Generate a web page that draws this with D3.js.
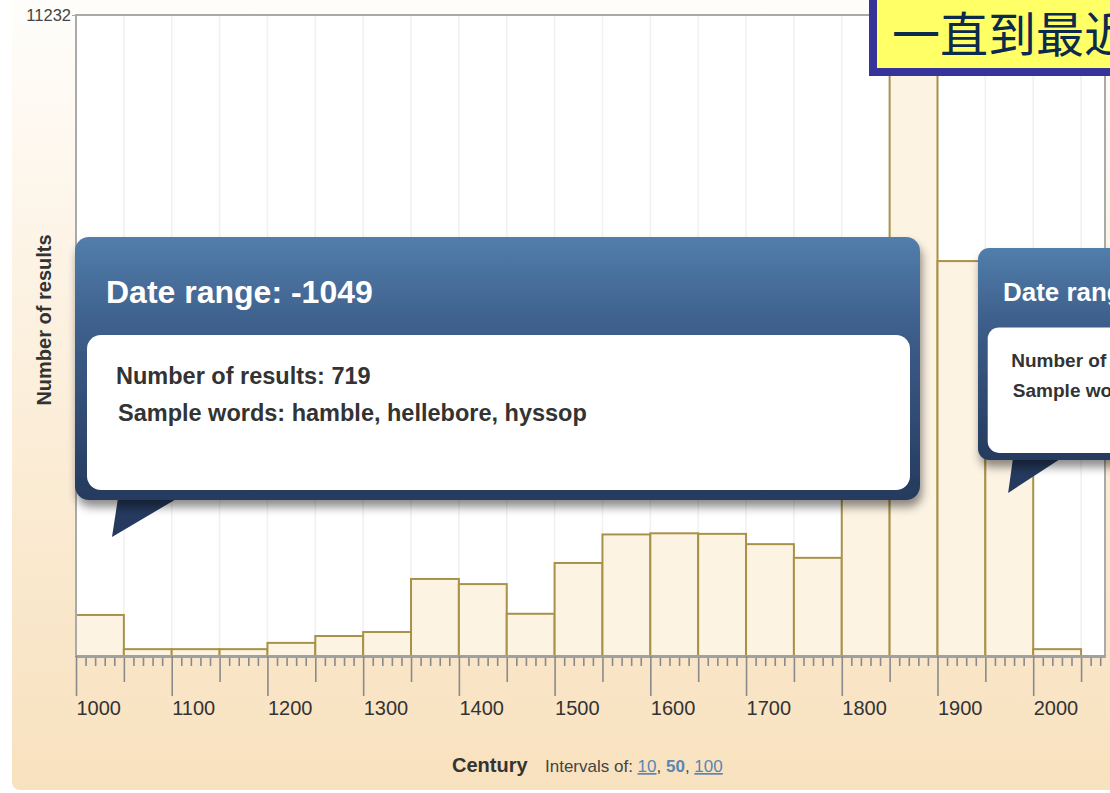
<!DOCTYPE html>
<html>
<head>
<meta charset="utf-8">
<script src="https://cdn.jsdelivr.net/npm/d3@7"></script>
<style>
body { margin: 0; background: #fff; overflow: hidden; }
svg { display: block; font-family: "Liberation Sans", Arial, sans-serif; }
</style>
</head>
<body>
<script>
// 50-year bins, counts
var binStarts = [1000, 1050, 1100, 1150, 1200, 1250, 1300, 1350, 1400, 1450, 1500,
                 1550, 1600, 1650, 1700, 1750, 1800, 1850, 1900, 1950, 2000];
var counts = [719, 120, 120, 120, 230, 350, 420, 1350, 1260, 740, 1630,
              2130, 2150, 2140, 1960, 1720, 5200, 11232, 6920, 5000, 120];
var binWidth = 50;
var yMax = 11232;
var centuryTicks = [1000, 1100, 1200, 1300, 1400, 1500, 1600, 1700, 1800, 1900, 2000];
var intervalLinks = ["10", "50", "100"];

// tooltip texts
var tipTitles = ["Date range: -1049", "Date range: 1950-1999"];
var tipResults = ["Number of results: 719", "Number of results: 5000"];
var tipWords = ["Sample words: hamble, hellebore, hyssop", "Sample words: hashtag, hacktivist"];
var noteText = "一直到最近";

var w = 1110, h = 793;
var svg = d3.select("body").append("svg").attr("width", w).attr("height", h);
var defs = svg.append("defs");

var bg = defs.append("linearGradient").attr("id", "bg").attr("x1", 0).attr("y1", 0).attr("x2", 0).attr("y2", 1);
bg.append("stop").attr("offset", "0%").attr("stop-color", "#fffefc");
bg.append("stop").attr("offset", "45%").attr("stop-color", "#fcf0de");
bg.append("stop").attr("offset", "100%").attr("stop-color", "#f8e1be");

var tg = defs.append("linearGradient").attr("id", "tip").attr("x1", 0).attr("y1", 0).attr("x2", 0).attr("y2", 1);
tg.append("stop").attr("offset", "0%").attr("stop-color", "#527eab");
tg.append("stop").attr("offset", "35%").attr("stop-color", "#3d5e8b");
tg.append("stop").attr("offset", "100%").attr("stop-color", "#253a5e");

var f = defs.append("filter").attr("id", "shadow")
    .attr("x", "-5%").attr("y", "-5%").attr("width", "115%").attr("height", "125%");
f.append("feDropShadow").attr("dx", 2).attr("dy", 7).attr("stdDeviation", 5)
    .attr("flood-color", "#000").attr("flood-opacity", 0.45);

// page panel
svg.append("rect").attr("x", 12).attr("y", -12).attr("width", 1120).attr("height", 802)
    .attr("rx", 8).attr("fill", "url(#bg)");

var x = d3.scaleLinear().domain([1000, 2075]).range([76, 1105]);
var y = d3.scaleLinear().domain([0, yMax]).range([656, 15]);

// plot area
svg.append("rect").attr("x", x(1000)).attr("y", y(yMax))
    .attr("width", x(2075) - x(1000)).attr("height", y(0) - y(yMax)).attr("fill", "#fff");

svg.append("g").selectAll("line")
    .data(d3.range(1050, 2075, 50))
    .enter().append("line")
    .attr("x1", function(d) { return x(d); }).attr("x2", function(d) { return x(d); })
    .attr("y1", y(yMax)).attr("y2", y(0))
    .attr("stroke", "#f0f0f0").attr("stroke-width", 1.5);

svg.append("g").selectAll("rect")
    .data(binStarts)
    .enter().append("rect")
    .attr("x", function(d) { return x(d); })
    .attr("y", function(d, i) { return y(counts[i]); })
    .attr("width", x(1000 + binWidth) - x(1000))
    .attr("height", function(d, i) { return y(0) - y(counts[i]); })
    .attr("fill", "#fdf3e3")
    .attr("stroke", "#a8924a")
    .attr("stroke-width", 2);

// frame
svg.append("path")
    .attr("d", "M" + x(1000) + "," + y(0) + "V" + y(yMax) + "H" + x(2075) + "V" + y(0))
    .attr("fill", "none").attr("stroke", "#aaa").attr("stroke-width", 2);

// x axis: 10-year, 50-year and century ticks
function styleAxis(g) {
    g.select(".domain").attr("stroke", "#a0a0a0").attr("stroke-width", 2.5);
    g.selectAll(".tick line").attr("stroke", "#8a8a8a").attr("stroke-width", 1.6);
}
svg.append("g").attr("transform", "translate(0," + y(0) + ")")
    .call(d3.axisBottom(x).tickValues(d3.range(1010, 2075, 10).filter(function(d) { return d % 50 != 0; }))
        .tickSize(10).tickSizeOuter(0).tickFormat(""))
    .call(styleAxis);
svg.append("g").attr("transform", "translate(0," + y(0) + ")")
    .call(d3.axisBottom(x).tickValues(d3.range(1050, 2075, 100)).tickSize(26).tickSizeOuter(0).tickFormat(""))
    .call(styleAxis);
var xa = svg.append("g").attr("transform", "translate(0," + y(0) + ")")
    .call(d3.axisBottom(x).tickValues(centuryTicks).tickSize(40).tickPadding(5).tickSizeOuter(0).tickFormat(d3.format("d")))
    .call(styleAxis);
xa.selectAll("text").attr("text-anchor", "start").attr("x", 0)
    .attr("font-family", "Liberation Sans, Arial, sans-serif").attr("font-size", "20px").attr("fill", "#333");

// y axis: only the max
var ya = svg.append("g").attr("transform", "translate(" + x(1000) + ",0)")
    .call(d3.axisLeft(y).tickValues([yMax]).tickSize(4).tickPadding(1).tickFormat(d3.format("d")));
ya.select(".domain").remove();
ya.selectAll(".tick line").attr("stroke", "#aaa");
ya.selectAll("text").attr("font-family", "Liberation Sans, Arial, sans-serif")
    .attr("font-size", "16.5px").attr("fill", "#444");

svg.append("text")
    .attr("transform", "translate(51,320) rotate(-90)")
    .attr("text-anchor", "middle")
    .attr("font-size", "20px").attr("font-weight", "bold").attr("fill", "#333")
    .text("Number of results");

svg.append("text").attr("x", 452).attr("y", 772)
    .attr("font-size", "20px").attr("font-weight", "bold").attr("fill", "#333")
    .text("Century");

var iv = svg.append("text").attr("x", 545).attr("y", 772)
    .attr("font-size", "17px").attr("fill", "#444");
iv.append("tspan").text("Intervals of: ");
intervalLinks.forEach(function(t, i) {
    iv.append("tspan").text(t)
        .attr("fill", "#5a86b4")
        .attr("font-weight", t == "50" ? "bold" : "normal")
        .attr("text-decoration", t == "50" ? "none" : "underline");
    if (i < intervalLinks.length - 1) iv.append("tspan").text(", ");
});

// tooltips
function tooltip(o) {
    var g = svg.append("g");
    g.append("path")
        .attr("d", "M" + o.px + "," + (o.y + o.h - 2) + "L" + (o.px + 60 * o.s) + "," + (o.y + o.h - 2) +
                   "L" + (o.px - 6 * o.s) + "," + o.tipY + "Z")
        .attr("fill", "#253a5e");
    g.append("rect").attr("x", o.x).attr("y", o.y).attr("width", o.w).attr("height", o.h)
        .attr("rx", 14 * o.s).attr("fill", "url(#tip)").attr("filter", "url(#shadow)");
    g.append("rect").attr("x", o.x + 12 * o.s).attr("y", o.y + 98 * o.s)
        .attr("width", o.w - 22 * o.s).attr("height", 155 * o.s)
        .attr("rx", 14 * o.s).attr("fill", "#fff");
    g.append("text").attr("x", o.x + 31 * o.s).attr("y", o.y + 66 * o.s)
        .attr("font-size", 32 * o.s + "px").attr("font-weight", "bold").attr("fill", "#fff")
        .text(tipTitles[o.i]);
    g.append("text").attr("x", o.x + 41 * o.s).attr("y", o.y + 147 * o.s)
        .attr("font-size", 23.5 * o.s + "px").attr("font-weight", "bold").attr("fill", "#333")
        .text(tipResults[o.i]);
    g.append("text").attr("x", o.x + 43 * o.s).attr("y", o.y + 184 * o.s)
        .attr("font-size", 23.5 * o.s + "px").attr("font-weight", "bold").attr("fill", "#333")
        .text(tipWords[o.i]);
}
tooltip({i: 0, x: 75, y: 237, w: 845, h: 263, s: 1, px: 118, tipY: 537});
tooltip({i: 1, x: 978, y: 248, w: 845, h: 212, s: 0.81, px: 1013, tipY: 493});

// yellow note box
svg.append("rect").attr("x", 873).attr("y", -10).attr("width", 300).attr("height", 82)
    .attr("fill", "#ffff66").attr("stroke", "#36349a").attr("stroke-width", 8);
svg.append("text").attr("x", 892).attr("y", 52)
    .attr("font-family", "Noto Sans CJK SC").attr("font-size", "48px").attr("fill", "#0c2a4c")
    .text(noteText);
</script>
</body>
</html>
